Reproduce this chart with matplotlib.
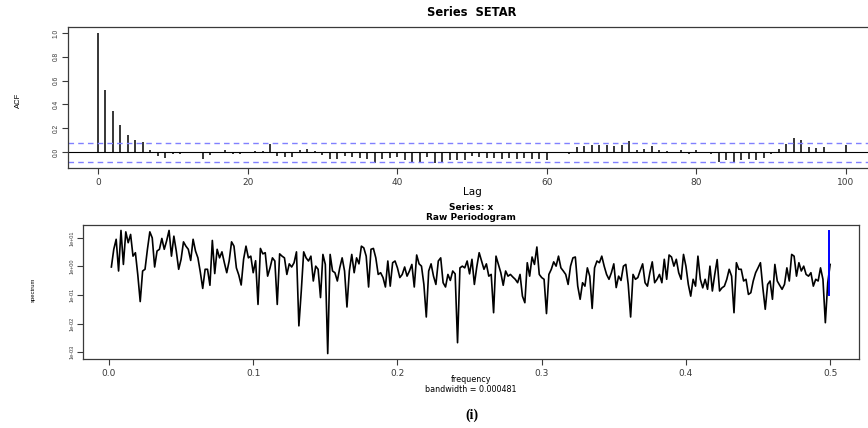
import numpy as np
import matplotlib
matplotlib.use("Agg")
from matplotlib import pyplot as plt

# ---- ACF of the SETAR series (lags 0..100) ----
lags = list(range(0, 101))
acf_vals = [1.0, 0.52, 0.345, 0.225, 0.145, 0.10, 0.085, 0.015, -0.03, -0.05,
            -0.02, -0.015, -0.005, 0.0, -0.055, -0.025, -0.005, 0.015, -0.02, -0.02,
            -0.01, 0.01, 0.01, 0.07, -0.03, -0.04, -0.04, 0.02, 0.025, 0.005,
            -0.025, -0.055, -0.055, -0.035, -0.04, -0.05, -0.055, -0.09, -0.055, -0.05,
            -0.04, -0.07, -0.08, -0.085, -0.04, -0.09, -0.085, -0.07, -0.07, -0.07,
            -0.035, -0.045, -0.05, -0.05, -0.06, -0.05, -0.055, -0.05, -0.06, -0.055,
            -0.07, -0.005, -0.01, -0.02, 0.045, 0.05, 0.06, 0.06, 0.055, 0.05,
            0.06, 0.09, 0.015, 0.025, 0.05, 0.02, 0.008, 0.003, 0.02, -0.014,
            0.014, 0.0, -0.02, -0.08, -0.065, -0.087, -0.065, -0.06, -0.065, -0.048,
            -0.02, 0.025, 0.064, 0.12, 0.098, 0.042, 0.03, 0.042, 0.003, 0.003,
            0.059]
acf_ci = 0.08

# ---- raw periodogram of x (log10 of spectrum) ----
spec_log10 = [
    # 0.00 - 0.10
    -0.02, 0.60, 0.95, -0.16, 1.26, 0.07, 1.21, 0.83, 1.12, 0.36,
    0.48, -0.30, -1.23, -0.16, -0.10, 0.60, 1.21, 1.00, -0.02, 0.54,
    0.60, 0.98, 0.60, 0.90, 1.26, 0.36, 1.06, 0.54, -0.10, 0.25,
    0.86, 0.71, 0.60, 0.21, 0.95, 0.54, 0.30, -0.20, -0.77, -0.10,
    -0.10, -0.66, 0.91, -0.25, 0.60, 0.30, 0.51, 0.13, -0.22, 0.19,
    0.86, 0.71, -0.05, -0.30, -0.65, 0.25, 0.71, 0.30, 0.36, -0.22,
    # 0.10 - 0.20
    0.20, -1.33, 0.63, 0.44, 0.48, -0.34, -0.05, 0.30, 0.19, -1.33,
    0.44, 0.36, 0.30, -0.28, 0.09, -0.02, 0.13, 0.51, -2.08, -0.86,
    0.51, 0.30, 0.19, 0.36, -0.51, 0.01, -0.10, -1.09, 0.42, 0.07,
    -3.05, 0.42, -0.16, -0.22, -0.51, -0.05, 0.30, -0.16, -1.42, -0.16,
    0.42, -0.22, 0.30, 0.09, 0.71, 0.65, 0.36, -0.72, 0.60, 0.63,
    0.30, -0.28, -0.22, -0.39, -0.72, 0.19, -0.69, 0.13, 0.19, -0.05,
    # 0.20 - 0.30
    -0.39, -0.28, -0.02, -0.34, -0.16, 0.07, -0.72, 0.40, 0.09, 0.01,
    -0.63, -1.77, -0.16, 0.09, -0.34, -0.63, 0.19, 0.30, -0.57, -0.72,
    -0.28, -0.49, -0.16, -0.26, -2.67, -0.05, 0.01, -0.05, 0.19, -0.26,
    0.25, -0.63, -0.02, 0.48, 0.19, -0.10, 0.09, -0.34, -0.28, -1.62,
    0.36, 0.07, -0.22, -0.66, -0.16, -0.34, -0.28, -0.37, -0.45, -0.57,
    -0.28, -1.04, -1.27, 0.13, -0.34, 0.33, 0.07, 0.68, -0.28, -0.39,
    # 0.30 - 0.40
    -0.45, -1.65, -0.28, -0.10, 0.16, 0.01, 0.36, -0.05, -0.16, -0.28,
    -0.63, 0.01, 0.30, 0.33, -0.69, -1.15, -0.57, -0.69, -0.05, -0.34,
    -1.47, -0.05, 0.19, 0.13, 0.36, 0.01, -0.28, -0.45, -0.22, 0.09,
    -0.74, -0.34, -0.49, 0.01, 0.07, -0.63, -1.77, -0.28, -0.45, -0.39,
    -0.14, 0.09, -0.57, -0.69, -0.22, 0.16, -0.57, -0.45, -0.28, -0.57,
    0.25, -0.45, 0.40, 0.33, 0.01, 0.25, -0.22, -0.45, 0.42, 0.01,
    # 0.40 - 0.50
    -0.63, -1.04, -0.45, -0.69, 0.36, -0.45, -0.75, -0.45, -0.80, 0.01,
    -0.86, -0.28, 0.24, -0.86, -0.75, -0.69, -0.45, -0.10, -0.34, -1.62,
    0.13, -0.10, -0.10, -0.51, -0.45, -0.98, -0.92, -0.51, -0.22, -0.05,
    0.13, -0.75, -1.50, -0.63, -0.51, -1.15, 0.07, -0.51, -0.66, -0.80,
    -0.63, -0.05, -0.51, 0.42, 0.36, -0.34, 0.13, -0.16, 0.01, -0.28,
    -0.34, -0.22, -0.69, -0.45, -0.51, -0.05, -0.45, -1.97, -0.57, 0.07,
]
bandwidth = 0.000481
spec_ci = [18.0, 0.10]   # blue confidence bar (top, bottom)

n = len(spec_log10)
freq = np.arange(1, n + 1) / (2.0 * n)
spec = 10.0 ** np.array(spec_log10)

W, H = 868, 428
fig = plt.figure(figsize=(W / 100, H / 100), dpi=100)
sans = ["DejaVu Sans"]
frame_col = "#3a3a3a"

# ---------------- top: ACF ----------------
ax1 = fig.add_axes([68 / W, 1 - 168 / H, 808 / W, 141 / H])
ax1.vlines(lags, 0, acf_vals, color="black", lw=1.1)
ax1.axhline(0, color="black", lw=0.8)
for c in (acf_ci, -acf_ci):
    ax1.axhline(c, color="#8080ff", lw=1.0, dashes=(4, 3))
ax1.set_xlim(-4, 104)
ax1.set_ylim(-0.134, 1.05)
ax1.set_xticks([0, 20, 40, 60, 80, 100])
ax1.set_yticks([0.0, 0.2, 0.4, 0.6, 0.8, 1.0])
ax1.set_yticklabels(["0.0", "0.2", "0.4", "0.6", "0.8", "1.0"], rotation=90,
                    va="center", family="Liberation Sans", fontsize=4.8)
ax1.tick_params(axis="x", labelsize=6.5, length=4, pad=3, width=0.8, colors=frame_col)
ax1.tick_params(axis="y", length=4, pad=2, width=0.8, colors=frame_col)
for s in ax1.spines.values():
    s.set_color(frame_col)
    s.set_linewidth(0.9)
fig.text(472 / W, 1 - 12 / H, "Series  SETAR", ha="center", va="center",
         fontsize=8.3, fontweight="bold", family=sans)
fig.text(472 / W, 1 - 192 / H, "Lag", ha="center", va="center",
         fontsize=7.5, family=sans)
fig.text(18 / W, 1 - 100 / H, "ACF", ha="center", va="center", rotation=90,
         fontsize=5.5, family="Liberation Sans")

# ---------------- bottom: periodogram ----------------
ax2 = fig.add_axes([83 / W, 1 - 359 / H, 776 / W, 134 / H])
ax2.plot(freq, spec, color="black", lw=1.2)
conf_x = freq[-1] - bandwidth
ax2.plot([conf_x, conf_x], spec_ci, color="blue", lw=1.4)
ax2.set_yscale("log")
ax2.set_xlim(-0.018, 0.52)
ax2.set_ylim(10 ** -3.24, 10 ** 1.45)
ax2.set_xticks([0.0, 0.1, 0.2, 0.3, 0.4, 0.5])
ax2.set_xticklabels(["0.0", "0.1", "0.2", "0.3", "0.4", "0.5"])
exps = [1, 0, -1, -2, -3]
ax2.set_yticks([10.0 ** e for e in exps])
ax2.set_yticklabels([f"1e{e:+03d}" for e in exps], rotation=90, va="center",
                    family="Liberation Sans", fontsize=4.0)
ax2.minorticks_off()
ax2.tick_params(axis="x", labelsize=6.5, length=4, pad=3, width=0.8, colors=frame_col)
ax2.tick_params(axis="y", length=4, pad=2, width=0.8, colors=frame_col)
for s in ax2.spines.values():
    s.set_color(frame_col)
    s.set_linewidth(0.9)
fig.text(471 / W, 1 - 207 / H, "Series: x", ha="center", va="center",
         fontsize=6.5, fontweight="bold", family=sans)
fig.text(471 / W, 1 - 217 / H, "Raw Periodogram", ha="center", va="center",
         fontsize=6.5, fontweight="bold", family=sans)
fig.text(471 / W, 1 - 380 / H, "frequency", ha="center", va="center",
         fontsize=5.8, family=sans)
fig.text(471 / W, 1 - 389 / H, "bandwidth = 0.000481", ha="center", va="center",
         fontsize=5.8, family=sans)
fig.text(33 / W, 1 - 290 / H, "spectrum", ha="center", va="center", rotation=90,
         fontsize=4.2, family="Liberation Sans")

fig.text(472 / W, 1 - 415 / H, "(i)", ha="center", va="center",
         fontsize=10, fontweight="bold", family="Liberation Serif")

fig.savefig("out.png", dpi=100)
